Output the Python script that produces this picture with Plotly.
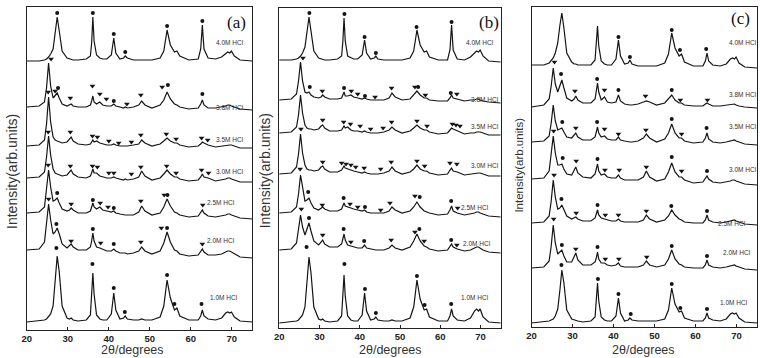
import plotly.graph_objects as go

# ---------------- data ----------------
TWO_THETA = [
    20, 23, 24.3, 24.8, 25.3, 25.8, 26.4, 26.9, 27.4, 27.9,
    28.6, 29.8, 30.4, 30.8, 31.3, 32.5, 34.5, 35.5, 35.8, 36.1,
    36.4, 37.0, 37.8, 38.5, 39.5, 40.6, 41.2, 41.7, 42.7, 43.6,
    44.0, 44.5, 46.0, 47.3, 48.0, 48.8, 50.5, 52.5, 53.4, 54.2,
    55.0, 56.0, 56.6, 57.3, 59.5, 61.8, 62.4, 62.8, 63.2, 64.2,
    66.0, 67.5, 68.5, 69.0, 69.5, 69.9, 70.6, 72.0, 75.0]

LEVELS = ["1.0M HCl", "2.0M HCl", "2.5M HCl", "3.0M HCl", "3.5M HCl", "3.8M HCl", "4.0M HCl"]
TICKS = [20, 30, 40, 50, 60, 70]
PANEL_NAMES = ["(a)", "(b)", "(c)"]

# panel (a) intensities (arb. units, above each pattern's own baseline)
A_10 = [0,1,2,3,5,8,16,38,66,50, 16,4,3,4,2,1,2,7,25,49, 28,7,3,2,2,8,29,12,3,4,
        6,3,2,2,3,2,2,5,16,42, 24,12,14,6,2,2,6,12,6,3, 2,4,9,10,9,10,5,1,0]
A_20 = [8,9,16,34,54,38,24,26,30,24, 14,10,12,14,11,8,8,11,17,25, 17,11,10,9,7,7,9,7,5,5,
        5,4,5,7,11,7,4,7,15,26, 16,8,7,4,2,3,6,9,6,3, 3,4,6,7,7,6,4,1,0]
A_25 = [6,7,12,28,49,32,18,19,21,16, 10,8,9,11,9,6,6,8,12,16, 12,10,12,9,8,7,8,6,5,4,
        4,4,4,7,13,8,4,6,12,20, 13,7,6,4,2,3,6,9,6,3, 2,3,4,5,5,4,3,1,0]
A_30 = [4,5,10,25,46,27,13,9,8,7, 6,7,10,12,8,5,4,6,9,13, 9,9,6,5,4,4,5,4,3,2,
        3,2,3,5,11,6,2,4,8,12, 8,5,5,3,1,2,5,8,5,4, 1,2,3,4,4,3,2,0,0]
A_35 = [2,3,8,24,51,26,11,8,7,6, 5,6,9,11,7,4,3,4,6,8, 6,7,5,4,3,3,4,3,2,2,
        2,2,3,4,8,5,2,4,7,10, 7,5,5,3,1,2,4,6,5,3, 1,2,3,3,3,3,2,0,0]
A_38 = [3,4,8,22,47,24,12,14,17,12, 6,4,5,6,4,3,3,5,9,14, 8,6,8,5,4,4,6,4,3,2,
        3,2,3,5,9,5,2,5,10,18, 11,6,5,3,1,2,6,10,5,2, 2,3,4,5,5,4,3,1,0]
A_40 = [0,0,1,2,4,7,12,26,44,30, 10,3,2,2,1,1,2,5,18,44, 20,6,3,2,2,6,23,8,2,3,
        5,3,1,1,1,1,1,3,10,31, 16,9,10,5,1,2,12,36,12,3, 2,4,8,9,8,10,5,1,0]
A_OFFSET = [8, 72, 111, 148, 182, 220, 269]

# panel (b)
B_10 = [0,1,2,3,5,8,16,38,66,50, 16,4,3,4,2,1,2,7,24,48, 27,7,3,2,2,8,30,12,3,4,
        6,3,2,2,3,2,2,5,16,43, 24,13,14,6,2,2,7,14,7,3, 2,5,12,14,12,14,6,1,0]
B_20 = [3,4,10,22,38,26,18,24,30,22, 12,8,11,13,9,6,6,9,14,19, 13,8,7,6,5,5,8,5,4,3,
        3,3,3,5,8,5,3,6,12,19, 12,7,6,4,2,3,6,9,6,4, 2,3,5,6,6,5,3,1,0]
B_25 = [4,5,10,23,42,28,16,17,19,14, 9,7,9,10,8,6,6,8,11,14, 11,10,9,8,7,6,7,5,4,4,
        4,4,4,6,10,7,4,6,10,15, 10,6,5,4,2,3,7,11,6,4, 2,3,4,5,5,4,3,1,0]
B_30 = [2,3,9,22,42,23,11,7,6,6, 5,6,9,10,7,4,4,6,8,10, 8,7,6,5,4,3,4,3,2,2,
        2,2,3,5,9,5,2,4,7,11, 7,5,5,3,1,2,6,8,5,4, 1,2,3,3,3,3,2,0,0]
B_35 = [2,3,8,20,40,22,10,7,6,6, 5,6,9,10,7,4,4,5,7,9, 7,8,5,4,4,3,4,3,2,2,
        2,2,3,5,8,5,2,4,7,10, 7,5,5,3,1,2,5,7,6,4, 1,2,2,3,3,3,2,0,0]
B_38 = [3,4,9,22,41,22,11,10,11,8, 6,5,6,8,6,4,4,5,8,11, 7,7,8,6,5,4,5,4,3,3,
        3,3,3,5,10,6,3,4,8,12, 8,5,5,3,2,2,5,8,5,4, 2,3,3,4,4,3,2,1,0]
B_40 = [2,2,3,4,6,9,15,28,45,31, 11,4,3,3,2,2,3,6,20,44, 21,6,4,3,3,7,22,9,3,4,
        6,3,2,2,2,2,2,4,11,32, 17,10,11,5,2,2,12,37,12,3, 2,5,9,11,10,12,6,1,0]
B_OFFSET = [5, 75, 111, 152, 193, 225, 266]

# panel (c)
C_10 = [0,1,2,3,4,7,14,32,53,40, 13,4,3,3,2,1,2,6,20,40, 22,6,3,2,2,7,25,10,2,3,
        5,3,2,2,2,2,2,4,13,35, 19,11,12,5,2,2,5,10,5,3, 2,4,9,10,9,10,5,1,0]
C_20 = [2,3,9,24,45,27,16,18,20,14, 8,8,13,17,10,5,5,8,12,18, 11,7,7,5,4,5,7,4,3,3,
        3,3,3,5,9,5,3,5,11,20, 11,6,5,3,2,2,5,10,5,3, 2,3,4,5,5,4,3,1,0]
C_25 = [2,3,9,24,45,28,16,17,20,15, 9,6,7,8,6,4,4,7,11,15, 10,7,6,5,4,4,6,4,3,3,
        3,3,3,5,10,6,3,5,9,15, 10,6,5,3,2,2,5,10,5,3, 2,3,4,5,5,4,3,1,0]
C_30 = [6,7,14,30,49,32,20,20,21,16, 11,10,14,18,12,8,7,11,16,21, 14,10,11,8,7,7,10,7,5,5,
        5,5,5,8,14,8,4,6,13,22, 13,8,8,5,2,3,6,9,6,3, 2,3,4,5,5,4,3,1,0]
C_35 = [3,4,9,22,40,24,15,16,17,13, 8,7,10,12,8,5,5,8,13,18, 12,8,9,6,5,5,8,5,4,3,
        3,3,4,7,11,7,3,6,12,21, 12,7,7,4,2,3,7,12,6,3, 2,3,4,5,5,4,3,1,0]
C_38 = [1,3,9,22,40,24,16,22,28,20, 10,7,9,12,8,5,5,9,16,25, 16,8,11,6,5,6,13,7,4,3,
        3,3,4,6,7,6,3,5,9,13, 8,5,5,3,2,2,4,5,4,2, 2,3,3,4,4,3,2,1,0]
C_40 = [3,3,5,7,10,15,25,42,55,40, 15,6,4,4,3,3,3,8,22,42, 22,7,4,3,3,9,28,12,4,5,
        8,4,2,2,2,2,2,5,14,35, 20,12,14,6,2,2,7,15,7,3, 2,4,9,10,9,11,5,1,0]
C_OFFSET = [4, 57, 102, 142, 182, 219, 259]

# phase markers: (2theta, height above pattern baseline, kind) o = dot, v = triangle
A_MARKS = [
    [(27.2,74,'o'),(36.0,58,'o'),(41.2,34,'o'),(43.9,10,'o'),(54.2,47,'o'),(56.0,18,'o'),(62.6,18,'o')],
    [(25.3,59,'v'),(27.2,34,'o'),(30.8,17,'v'),(36.1,29,'o'),(38.0,15,'v'),(41.2,14,'o'),(47.8,16,'v'),(52.8,30,'v'),(54.2,30,'o'),(62.8,14,'v')],
    [(25.2,54,'v'),(27.4,26,'o'),(30.8,15,'v'),(36.1,19,'o'),(37.9,16,'v'),(39.8,12,'v'),(41.2,11,'o'),(47.8,18,'v'),(53.5,24,'v'),(54.3,24,'o'),(62.9,14,'v')],
    [(25.2,50,'v'),(30.6,16,'v'),(36.0,16,'v'),(37.2,15,'v'),(40.0,9,'v'),(41.2,9,'v'),(45.5,8,'v'),(47.8,15,'v'),(54.1,16,'v'),(56.4,9,'v'),(62.6,12,'v'),(64.3,9,'v')],
    [(25.2,56,'v'),(30.6,16,'v'),(36.0,12,'v'),(37.2,11,'v'),(40.0,7,'v'),(42.4,5,'v'),(45.5,6,'v'),(47.8,13,'v'),(54.0,14,'v'),(56.4,9,'v'),(62.6,10,'v'),(64.1,8,'v')],
    [(25.9,51,'v'),(26.9,19,'v'),(27.6,22,'o'),(30.6,12,'v'),(36.0,24,'v'),(37.8,16,'v'),(39.4,11,'v'),(41.2,9,'o'),(44.4,6,'v'),(47.8,15,'v'),(53.0,23,'v'),(54.4,25,'o'),(62.8,16,'o')],
    [(27.4,48,'o'),(36.1,48,'o'),(41.2,27,'o'),(44.0,9,'o'),(54.2,35,'o'),(62.8,40,'o')],
]
B_MARKS = [
    [(26.8,76,'o'),(36.2,59,'o'),(41.3,34,'o'),(44.0,10,'o'),(54.2,47,'o'),(56.1,18,'o'),(62.7,19,'o')],
    [(25.5,44,'v'),(27.4,35,'o'),(30.8,18,'v'),(36.0,24,'o'),(37.8,11,'v'),(41.1,12,'o'),(47.8,13,'v'),(53.7,21,'v'),(54.8,24,'o'),(56.0,12,'v'),(62.7,13,'o'),(64.1,8,'v')],
    [(25.2,48,'v'),(27.2,25,'o'),(30.7,12,'v'),(36.0,19,'o'),(37.6,13,'v'),(39.5,10,'v'),(41.3,10,'o'),(45.2,7,'v'),(47.5,14,'v'),(53.7,21,'v'),(54.9,20,'o'),(62.7,16,'o'),(64.3,9,'v')],
    [(25.4,47,'v'),(30.8,14,'v'),(35.5,13,'v'),(36.6,12,'v'),(37.8,11,'v'),(39.0,9,'v'),(41.1,8,'v'),(45.2,7,'v'),(47.8,14,'v'),(54.2,15,'v'),(56.1,10,'v'),(62.4,13,'v'),(64.1,12,'v')],
    [(30.8,15,'v'),(36.0,13,'v'),(37.7,11,'v'),(40.1,9,'v'),(42.7,6,'v'),(45.8,7,'v'),(47.9,13,'v'),(54.2,14,'v'),(56.7,9,'v'),(63.0,11,'v'),(63.9,10,'v'),(64.9,9,'v')],
    [(25.9,45,'v'),(27.6,16,'o'),(30.7,12,'v'),(36.1,15,'o'),(37.9,12,'v'),(39.5,9,'v'),(41.3,7,'o'),(43.8,6,'v'),(47.9,15,'v'),(53.7,16,'v'),(54.5,16,'o'),(56.3,8,'v'),(62.6,10,'o'),(64.1,9,'v')],
    [(27.5,49,'o'),(36.2,48,'o'),(41.2,25,'o'),(44.0,9,'o'),(54.1,35,'o'),(62.8,40,'o')],
]
C_MARKS = [
    [(27.3,58,'o'),(36.2,44,'o'),(41.2,29,'o'),(44.2,9,'o'),(54.2,39,'o'),(56.3,15,'o'),(62.8,14,'o')],
    [(25.4,51,'v'),(27.4,25,'o'),(30.8,21,'v'),(36.1,23,'o'),(38.0,11,'v'),(41.3,11,'v'),(48.1,13,'v'),(54.2,24,'o'),(62.8,14,'o')],
    [(25.5,50,'v'),(27.3,26,'o'),(30.9,12,'v'),(36.1,20,'o'),(38.0,10,'v'),(41.2,10,'v'),(48.0,14,'v'),(54.1,19,'o'),(62.8,14,'o')],
    [(25.4,54,'v'),(27.6,27,'o'),(30.9,24,'v'),(36.1,26,'o'),(37.9,15,'v'),(41.4,15,'v'),(48.0,18,'v'),(54.2,28,'o'),(56.6,14,'v'),(62.8,14,'o')],
    [(27.5,23,'o'),(30.8,17,'v'),(36.0,23,'o'),(37.8,16,'v'),(41.2,11,'v'),(47.9,15,'v'),(54.2,26,'o'),(56.6,11,'v'),(62.7,17,'o')],
    [(25.6,46,'v'),(27.2,34,'o'),(30.6,17,'v'),(36.0,29,'o'),(37.8,18,'v'),(41.2,18,'o'),(47.8,12,'v'),(54.2,18,'o'),(56.3,8,'v'),(62.9,8,'v')],
    [(41.2,31,'o'),(44.0,11,'o'),(54.2,38,'o'),(56.2,18,'o'),(62.6,19,'o')],
]

# ---------------- layout (pixel geometry of the 760x358 page) ----------------
W, H = 760, 358
PANEL_BOX = [  # left, right, top, bottom (px)
    (22, 249, 7, 330),
    (276, 499, 8, 328),
    (530, 757, 7, 327),
]
LABEL_POS = [
    [(68.1,33),(67.3,89),(67.3,127),(69.5,158),(69.5,190),(69.5,222),(69.5,287)],
    [(68.5,31),(69.0,85),(68.5,121),(71.0,163),(71.0,201),(71.0,228),(69.8,285)],
    [(69.3,25),(70.2,74),(69.0,103),(71.5,157),(71.5,200),(71.5,232),(71.5,284)],
]
LETTER_POS = [(71.2,307),(72.0,305),(71.0,308)]
YTITLE = [(7,171,14),(262,171,14),(517,165,11.5)]
XTITLE_X = [128, 388, 643]

panels = [
    ([A_10, A_20, A_25, A_30, A_35, A_38, A_40], A_OFFSET, A_MARKS),
    ([B_10, B_20, B_25, B_30, B_35, B_38, B_40], B_OFFSET, B_MARKS),
    ([C_10, C_20, C_25, C_30, C_35, C_38, C_40], C_OFFSET, C_MARKS),
]

fig = go.Figure()
annotations = []
INK = "#141414"

for p, (curves, offs, marks) in enumerate(panels):
    xa = "x" if p == 0 else f"x{p+1}"
    ya = "y" if p == 0 else f"y{p+1}"
    for name, vals, off in zip(LEVELS, curves, offs):
        fig.add_trace(go.Scatter(
            x=TWO_THETA, y=[off + v for v in vals], mode="lines",
            line=dict(color=INK, width=1.2), xaxis=xa, yaxis=ya,
            name=name, showlegend=False, hoverinfo="skip"))
    for kind, sym, size in (("o", "circle", 4), ("v", "triangle-down", 5)):
        mx, my = [], []
        for off, mlist in zip(offs, marks):
            for (tt, h, k) in mlist:
                if k == kind:
                    mx.append(tt)
                    my.append(off + h)
        fig.add_trace(go.Scatter(
            x=mx, y=my, mode="markers", xaxis=xa, yaxis=ya,
            marker=dict(symbol=sym, size=size, color=INK, line=dict(width=0)),
            showlegend=False, hoverinfo="skip"))
    for name, (lx, ly) in zip(LEVELS, LABEL_POS[p]):
        annotations.append(dict(x=lx, y=ly, xref=xa, yref=ya, text=name,
                                showarrow=False, xanchor="center", yanchor="middle",
                                font=dict(family="Liberation Sans", size=6.5, color="#333")))
    lx, ly = LETTER_POS[p]
    annotations.append(dict(x=lx, y=ly, xref=xa, yref=ya, text=PANEL_NAMES[p],
                            showarrow=False, xanchor="center", yanchor="middle",
                            font=dict(family="Liberation Sans", size=17, color="#111")
                            if False else dict(family="Liberation Serif", size=17, color="#111")))
    tx, ty, ts = YTITLE[p]
    annotations.append(dict(x=tx / W, y=1 - ty / H, xref="paper", yref="paper",
                            text="Intensity(arb.units)", textangle=-90, showarrow=False,
                            xanchor="center", yanchor="middle",
                            font=dict(family="Liberation Sans", size=ts, color="#333")))
    annotations.append(dict(x=XTITLE_X[p] / W, y=0, xref="paper", yref="paper",
                            text="2θ/degrees", showarrow=False,
                            xanchor="center", yanchor="bottom", yshift=-1,
                            font=dict(family="Liberation Sans", size=12.5, color="#333")))

layout = dict(
    width=W, height=H, margin=dict(l=0, r=0, t=0, b=0),
    paper_bgcolor="white", plot_bgcolor="white", showlegend=False,
    annotations=annotations,
)
for p, (left, right, top, bottom) in enumerate(PANEL_BOX):
    xk = "xaxis" if p == 0 else f"xaxis{p+1}"
    yk = "yaxis" if p == 0 else f"yaxis{p+1}"
    ya = "y" if p == 0 else f"y{p+1}"
    xa = "x" if p == 0 else f"x{p+1}"
    layout[xk] = dict(
        domain=[left / W, right / W], range=[20, 75], anchor=ya,
        tickvals=TICKS, ticks="inside", ticklen=3, tickwidth=1, tickcolor="#222",
        showline=True, mirror=True, linecolor="#222", linewidth=1,
        showgrid=False, zeroline=False, ticklabelstandoff=0,
        tickfont=dict(family="Liberation Sans", size=9.5, color="#222", weight="bold"))
    layout[yk] = dict(
        domain=[1 - bottom / H, 1 - top / H], range=[0, bottom - top], anchor=xa,
        showticklabels=False, ticks="", showline=True, mirror=True,
        linecolor="#222", linewidth=1, showgrid=False, zeroline=False)

fig.update_layout(**layout)
fig.write_html("out.html")
